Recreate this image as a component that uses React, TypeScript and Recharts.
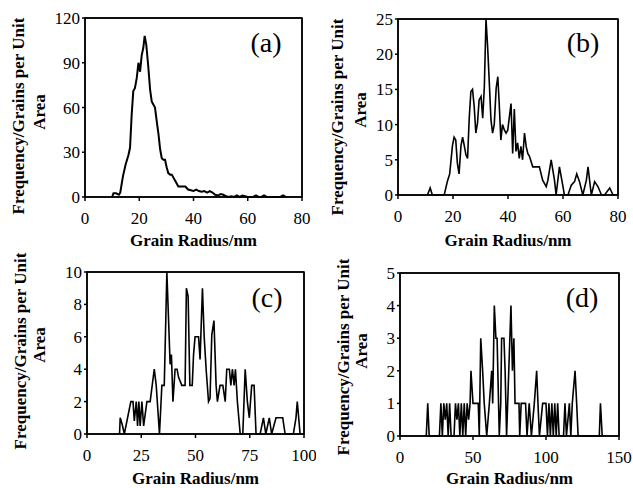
import React from "react";
import { LineChart, Line, XAxis, YAxis, CartesianGrid } from "recharts";

// (a)
const radiusA = [
  10, 10.5, 11.5, 12.5, 13, 14, 15, 16, 16.6, 17.2, 17.8, 18.4, 19.1, 19.7, 20.3,
  20.9, 21.5, 22, 22.6, 23.3, 24, 24.6, 25.2, 25.8, 26.5, 27.1, 27.7, 28.3, 28.9,
  29.5, 30.1, 30.7, 31.4, 32, 32.6, 33.2, 33.8, 34.4, 35, 36, 37, 38, 39, 40, 41,
  42, 43, 44, 45, 46, 47, 48, 49, 50, 51, 52, 53, 54, 55, 56, 57, 58, 59, 60, 61,
  62, 63, 64, 65, 66, 67, 68, 69, 70, 71, 72, 73, 74,
];
const freqA = [
  0, 2.5, 2.5, 1.5, 3, 14, 22, 28, 33, 55, 71, 73, 80, 90, 84, 95, 100, 108, 102,
  88, 72, 64, 62, 60, 50, 42, 32, 26, 25, 25, 20, 16, 15, 15, 13, 11, 9, 7, 7, 7,
  7, 5, 4.5, 4, 5, 4, 3.5, 4, 3, 4, 3, 1.5, 1, 2, 1.5, 0.5, 0, 0.5, 0, 1, 0, 1,
  0.5, 0, 0, 0, 1, 0, 0, 1, 0, 0, 0, 0, 0, 0, 1, 0,
];

// (b)
const radiusB = [
  10.7, 11.7, 12.5, 16.8, 18, 18.8, 19.8, 20.4, 21, 21.6, 22.2, 22.9, 23.5, 24.1,
  24.7, 25.3, 25.9, 26.5, 27.1, 27.7, 28.3, 28.9, 29.5, 30.2, 30.8, 31.4, 32, 32.6,
  33.2, 33.8, 34.4, 35, 35.7, 36.3, 36.8, 37.4, 38, 38.7, 39.3, 39.9, 40.5, 41.1,
  41.7, 42.3, 42.9, 43.5, 44.1, 44.7, 45.3, 46, 46.6, 47.2, 47.8, 49, 50.2, 51.4,
  52.6, 53.9, 54.5, 55.7, 56.9, 57.5, 58.7, 60, 60.5, 61.8, 63, 64.2, 65, 66, 67.2,
  68.5, 69.1, 70.3, 71.5, 72.7, 74, 75.1, 77, 78.2, 79,
];
const freqB = [
  0, 1, 0, 0, 2, 3, 7, 8.2, 7.8, 4.5, 3, 7, 8.2, 7, 5.7, 5.2, 10.9, 14.7, 15, 12.6,
  8.8, 10.2, 13.5, 14, 10.9, 15.4, 25, 21, 16, 10.7, 8.8, 10, 15.2, 16.8, 13, 7.8,
  10, 9.2, 8.8, 9.2, 11.1, 13, 5.9, 12.2, 6.2, 7.4, 5.2, 6.9, 5, 8.8, 6.9, 5.9, 5.5,
  4, 4, 4, 2.1, 1.2, 2.1, 5, 2.1, 0, 4, 1.2, 0, 0, 1.4, 1.9, 3, 1.9, 0, 2.1, 4, 0,
  1.9, 1.2, 0, 0, 1, 0, 0,
];

// (c)
const radiusC = [
  15, 15.3, 16.2, 17.2, 20.2, 21.2, 21.8, 22.7, 23.3, 23.9, 24.5, 25.3, 26.1, 27.6,
  29.1, 31, 31.9, 33.4, 34.5, 35.6, 36.3, 36.8, 37.6, 38.3, 38.9, 39.6, 40.6, 41.5,
  42.2, 43.7, 45.2, 45.8, 46.6, 47.4, 48.5, 49.1, 49.8, 51.4, 52.1, 53.2, 54, 54.9,
  56, 56.7, 57.5, 58.5, 59.5, 60.1, 61.3, 62.6, 63.7, 64.4, 65.6, 66.3, 67, 67.8,
  68.4, 69.3, 70.6, 71.8, 72.9, 73.9, 74.8, 75.9, 77, 77.9, 79.8, 81.3, 82.4, 84,
  85.1, 87.1, 90.2, 91.3, 95.1, 96.3, 96.9, 98.2,
];
const freqC = [
  0, 1, 0.6, 0, 2, 2, 0.8, 2, 0.5, 2, 0.5, 2, 0.5, 2, 2, 4, 3, 0, 3, 3, 7, 10, 7,
  4.3, 4.9, 2, 4, 4, 3.5, 3, 3, 9, 8.5, 3, 3, 4.9, 6, 6, 4.6, 9, 6, 4, 2, 2.2, 6.1,
  7, 3, 2, 3, 3, 2, 4, 4, 3, 4, 3, 4, 2, 0, 0, 4, 2, 1, 3, 3, 0, 0, 1, 0, 1, 0, 1,
  1, 0, 0, 1, 2, 0,
];

// (d)
const radiusD = [
  18, 19, 20, 27, 28, 29, 30, 31, 32, 33, 34, 35, 37, 38, 39, 40, 41, 42, 43, 44,
  45, 46, 47, 48, 48.6, 50, 53.6, 54.3, 55.3, 56.6, 57.7, 59.4, 61.2, 62.8, 63.5,
  64.6, 65.7, 66.5, 68, 69, 69.6, 71.2, 72, 73, 74.5, 76, 77, 78, 78.8, 81.5, 82,
  83, 86, 87, 88.5, 90, 92, 93.6, 94.5, 95.5, 97.7, 100, 101, 102, 103, 104, 105,
  106, 107, 108, 109, 112, 113, 114, 116, 117, 118, 119.9, 121, 122, 136.5, 137.3,
  138.5,
];
const freqD = [
  0, 1, 0, 0, 1, 0, 1, 0.5, 1, 0, 1, 0, 0, 1, 0.5, 1, 0, 1, 0, 1, 0, 1, 0.5, 1, 2,
  1, 1, 0, 3, 2, 1, 0, 1, 2, 1, 4, 3, 3, 0, 1, 3, 3, 2, 0, 2, 4, 2, 3, 1, 1, 0, 1,
  1, 0, 1, 0, 1, 2, 1, 0, 1, 1, 0, 1, 0, 1, 0, 1, 0, 1, 0, 0, 1, 0, 1, 0, 1, 2, 1,
  0, 0, 1, 0,
];

const ticksA = [0, 30, 60, 90, 120];
const ticksB = [0, 5, 10, 15, 20, 25];
const ticksC = [0, 2, 4, 6, 8, 10];
const ticksD = [0, 1, 2, 3, 4, 5];
const xTicks80 = [0, 20, 40, 60, 80];
const xTicks100 = [0, 25, 50, 75, 100];
const xTicks150 = [0, 50, 100, 150];

const FONT = "Liberation Serif";
const Y_TITLE = "Frequency/Grains per Unit";
const X_TITLE = "Grain Radius/nm";

type PanelProps = {
  radius: number[];
  freq: number[];
  xTicks: number[];
  yTicks: number[];
  tag: string;
  left: number;
  top: number;
  width: number;
  height: number;
  box: { left: number; top: number; right: number; bottom: number };
  titleX: [number, number];
  titleY: [number, number];
  xTitleY: number;
  tagPos: [number, number];
  lineWidth: number;
};

function Panel(p: PanelProps) {
  const data = p.radius.map((r, i) => ({ r, f: p.freq[i] }));
  const yW = 40;
  const xMax = p.xTicks[p.xTicks.length - 1];
  const yMax = p.yTicks[p.yTicks.length - 1];
  const plotCx = (p.box.left + p.box.right) / 2;

  // y title, panel tag and the plot frame
  const yLabel = () => (
    <g>
      <rect
        x={p.box.left}
        y={p.box.top}
        width={p.box.right - p.box.left}
        height={p.box.bottom - p.box.top}
        fill="none"
        stroke="#000"
        strokeWidth={1.5}
      />
      <text
        x={p.titleX[0]}
        y={p.titleY[0]}
        transform={`rotate(-90 ${p.titleX[0]} ${p.titleY[0]})`}
        textAnchor="middle"
        dominantBaseline="central"
        fontFamily={FONT}
        fontSize={17}
        fontWeight="bold"
        fill="#000"
      >
        {Y_TITLE}
      </text>
      <text
        x={p.titleX[1]}
        y={p.titleY[1]}
        transform={`rotate(-90 ${p.titleX[1]} ${p.titleY[1]})`}
        textAnchor="middle"
        dominantBaseline="central"
        fontFamily={FONT}
        fontSize={17}
        fontWeight="bold"
        fill="#000"
      >
        Area
      </text>
      <text
        x={p.tagPos[0]}
        y={p.tagPos[1]}
        textAnchor="middle"
        fontFamily={FONT}
        fontSize={28}
        fill="#000"
      >
        {p.tag}
      </text>
    </g>
  );

  const xLabel = () => (
    <text
      x={plotCx}
      y={p.xTitleY}
      textAnchor="middle"
      fontFamily={FONT}
      fontSize={17}
      fontWeight="bold"
      fill="#000"
    >
      {X_TITLE}
    </text>
  );

  const tickStyle = { fontSize: 17, fontFamily: FONT, fill: "#000" };

  return (
    <div style={{ position: "absolute", left: p.left, top: p.top }}>
      <LineChart
        width={p.width}
        height={p.height}
        data={data}
        margin={{
          top: p.box.top,
          right: p.width - p.box.right,
          bottom: 0,
          left: p.box.left - yW,
        }}
      >
        {/* top and right edges of the frame */}
        <CartesianGrid
          horizontalValues={[yMax]}
          verticalValues={[xMax]}
          stroke="#000"
          strokeWidth={1.5}
        />
        <XAxis
          dataKey="r"
          type="number"
          domain={[0, xMax]}
          ticks={p.xTicks}
          interval={0}
          height={p.height - p.box.bottom}
          tick={tickStyle}
          tickSize={4}
          tickMargin={11}
          stroke="#000"
          strokeWidth={1.5}
          label={{ content: xLabel }}
        />
        <YAxis
          type="number"
          domain={[0, yMax]}
          ticks={p.yTicks}
          interval={0}
          width={yW}
          tick={tickStyle}
          tickSize={3}
          tickMargin={2}
          stroke="#000"
          strokeWidth={1.5}
          label={{ content: yLabel }}
        />
        <Line
          dataKey="f"
          type="linear"
          stroke="#000"
          strokeWidth={p.lineWidth}
          dot={false}
          isAnimationActive={false}
        />
      </LineChart>
    </div>
  );
}

export default function App() {
  return (
    <div
      style={{
        position: "absolute",
        left: 0,
        top: 0,
        width: 633,
        height: 488,
        background: "#fff",
      }}
    >
      <Panel
        radius={radiusA}
        freq={freqA}
        xTicks={xTicks80}
        yTicks={ticksA}
        tag="(a)"
        left={0}
        top={0}
        width={316}
        height={250}
        box={{ left: 85, top: 18, right: 302, bottom: 197 }}
        titleX={[18, 39]}
        titleY={[116, 112]}
        xTitleY={246}
        tagPos={[266, 52]}
        lineWidth={2}
      />
      <Panel
        radius={radiusB}
        freq={freqB}
        xTicks={xTicks80}
        yTicks={ticksB}
        tag="(b)"
        left={316}
        top={0}
        width={317}
        height={250}
        box={{ left: 82, top: 19, right: 302, bottom: 195 }}
        titleX={[21, 44]}
        titleY={[117, 110]}
        xTitleY={246}
        tagPos={[267, 52]}
        lineWidth={1.6}
      />
      <Panel
        radius={radiusC}
        freq={freqC}
        xTicks={xTicks100}
        yTicks={ticksC}
        tag="(c)"
        left={0}
        top={250}
        width={316}
        height={238}
        box={{ left: 87, top: 22, right: 304, bottom: 184 }}
        titleX={[20, 39]}
        titleY={[101, 95]}
        xTitleY={234}
        tagPos={[267, 57]}
        lineWidth={1.6}
      />
      <Panel
        radius={radiusD}
        freq={freqD}
        xTicks={xTicks150}
        yTicks={ticksD}
        tag="(d)"
        left={316}
        top={250}
        width={317}
        height={238}
        box={{ left: 84, top: 23, right: 303, bottom: 186 }}
        titleX={[27, 45]}
        titleY={[107, 101]}
        xTitleY={234}
        tagPos={[266, 57]}
        lineWidth={1.6}
      />
    </div>
  );
}
